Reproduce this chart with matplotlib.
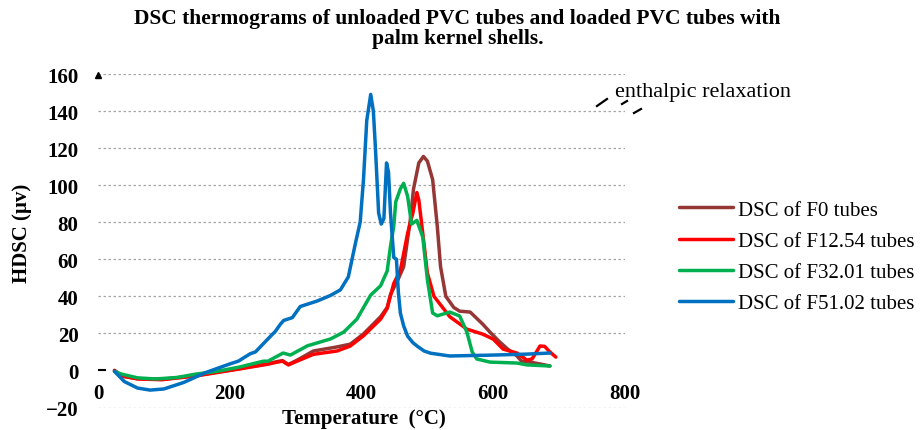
import matplotlib
matplotlib.use("Agg")
import matplotlib.pyplot as plt
from matplotlib.lines import Line2D

plt.rcParams['font.family'] = ['Liberation Serif', 'DejaVu Serif']

# ---------------- data ----------------
f0_T = [25, 36, 60, 97, 148, 213, 258, 272, 280, 289, 302, 327, 363, 383, 403, 429, 439, 444,
        456, 464, 474, 479, 487, 494, 500, 508, 515, 520, 528, 540, 549, 565, 584, 595, 610,
        622, 636, 643, 656, 671, 686]
f0_V = [0, -3, -4.4, -4.8, -2.8, 0.9, 3.6, 4.8, 5.3, 3.2, 5.5, 10.5, 12.7, 14.2, 19.7, 29, 34, 41,
        49.5, 56, 81, 98, 112, 115.5, 113, 103, 78, 56, 40, 34, 32, 31.5, 25, 20.7, 15.3,
        11.5, 7.8, 5, 4.5, 3.5, 2.4]

f12_T = [25, 36, 60, 97, 148, 213, 258, 272, 280, 289, 302, 327, 363, 383, 403, 429, 439, 449,
         459, 470, 478, 484, 487, 493, 500, 510, 534, 560, 584, 600, 615, 636, 651, 659, 671,
         678, 686, 695]
f12_V = [0, -3, -4.6, -5, -3, 0.7, 3.4, 4.5, 5, 3, 5, 8.7, 10.5, 13.2, 18.7, 27.7, 33.5, 47,
         54, 74, 85, 96, 92, 74, 52.6, 40, 29, 22.3, 19.6, 16.9, 11.5, 9.4, 5.6, 6.2, 13.2,
         13, 10, 7.2]

f32_T = [25, 36, 60, 87, 120, 148, 180, 213, 251, 258, 281, 292, 318, 353, 373, 393, 414, 429,
         439, 444, 449, 452, 459, 464, 470, 476, 484, 493, 500, 508, 515, 534, 549, 560, 568,
         575, 595, 636, 651, 686]
f32_V = [-0.5, -2, -4, -4.6, -3.8, -2, -0.5, 1.7, 5, 5, 9.4, 8.3, 13.3, 17, 20.7, 27.7, 40.7, 45.7,
         53.7, 67, 78, 91, 98, 101, 94, 79, 81, 72, 49, 31, 29.5, 31.5, 29.4, 20.7, 10,
         6.2, 4.5, 4, 3, 2.4]

f51_T = [25, 40, 60, 79, 100, 130, 163, 200, 213, 231, 239, 262, 269, 277, 282, 295, 307, 333,
         353, 368, 380, 391, 398, 403, 408, 414, 418, 421, 426, 430, 434, 438, 441, 444, 449,
         453, 456, 459, 464, 470, 478, 485, 495, 505, 534, 600, 650, 686]
f51_V = [-0.5, -6, -9.5, -10.6, -10, -6.5, -1.2, 3.5, 5, 9, 10, 18.5, 21, 25, 27, 28.5, 34.5, 37.5,
         40.5, 43.5, 50.5, 69, 80, 103, 135, 149, 140, 121, 85, 79, 82, 112, 107, 85, 61,
         60, 42, 31, 24, 18.5, 15, 13, 10.5, 9.3, 7.8, 8.3, 8.8, 9.4]

series = [
    ("DSC of F0 tubes", f0_T, f0_V, "#953735"),
    ("DSC of F12.54 tubes", f12_T, f12_V, "#FF0000"),
    ("DSC of F32.01 tubes", f32_T, f32_V, "#00B050"),
    ("DSC of F51.02 tubes", f51_T, f51_V, "#0070C0"),
]

yticks = [-20, 0, 20, 40, 60, 80, 100, 120, 140, 160]
xticks = [0, 200, 400, 600, 800]

title = "DSC thermograms of unloaded PVC tubes and loaded PVC tubes with\npalm kernel shells."

# ---------------- figure ----------------
W, H = 921, 431
fig = plt.figure(figsize=(W / 100, H / 100), dpi=100)
ax = fig.add_axes([98 / W, 1 - 408.5 / H, 527 / W, (408.5 - 75) / H])

for y in yticks:
    if y != 0:
        ax.axhline(y, color="#a6a6a6", lw=0.9, ls=(0, (2, 2)), zorder=0)

for label, T, V, c in series:
    ax.plot(T, V, color=c, lw=2.5, label=label, solid_capstyle="round", solid_joinstyle="round")

ax.set_xlim(0, 800)
ax.set_ylim(-20, 160)
ax.set_xticks(xticks)
ax.set_yticks(yticks)
for s in ax.spines.values():
    s.set_visible(False)
ax.spines['bottom'].set_position(('data', 0))
ax.tick_params(axis='y', length=0, pad=14, labelsize=15)
ax.tick_params(axis='x', length=0, pad=9, labelsize=15)
for lab in ax.get_xticklabels() + ax.get_yticklabels():
    lab.set_fontweight('bold')

# small tick dash at 0 and arrowhead at top of y axis
ax.plot([0.002, 0.014], [0, 0], color='black', lw=1.5, transform=ax.get_yaxis_transform(), clip_on=False)
ax.plot([0], [159.5], marker='^', color='black', markersize=5, clip_on=False)

fig.text(0.497, 1 - 29 / H, title, ha='center', va='center', fontsize=15.5,
         fontweight='bold', linespacing=1.0)
fig.text(22 / W, 1 - 233 / H, "HDSC (µv)", rotation=90, ha='center', va='center',
         fontsize=15, fontweight='bold')
fig.text(364 / W, 1 - 429 / H, "Temperature  (°C)", ha='center', va='bottom',
         fontsize=15, fontweight='bold')

fig.text(615 / W, 1 - 93 / H, "enthalpic relaxation", ha='left', va='center', fontsize=16)
for (x1, y1), (x2, y2) in [((597, 107), (607, 100)), ((622, 105), (627, 102)), ((634, 114), (641, 110))]:
    fig.add_artist(Line2D([x1 / W, x2 / W], [1 - y1 / H, 1 - y2 / H], color='black', lw=1.6,
                          transform=fig.transFigure))

ax.legend(loc='upper left', bbox_to_anchor=(679 / W, 1 - 201 / H), bbox_transform=fig.transFigure,
          frameon=False, fontsize=15, handlelength=2.6, handletextpad=0.25,
          labelspacing=0.56, borderpad=0, borderaxespad=0)

fig.savefig("out.png", dpi=100)
